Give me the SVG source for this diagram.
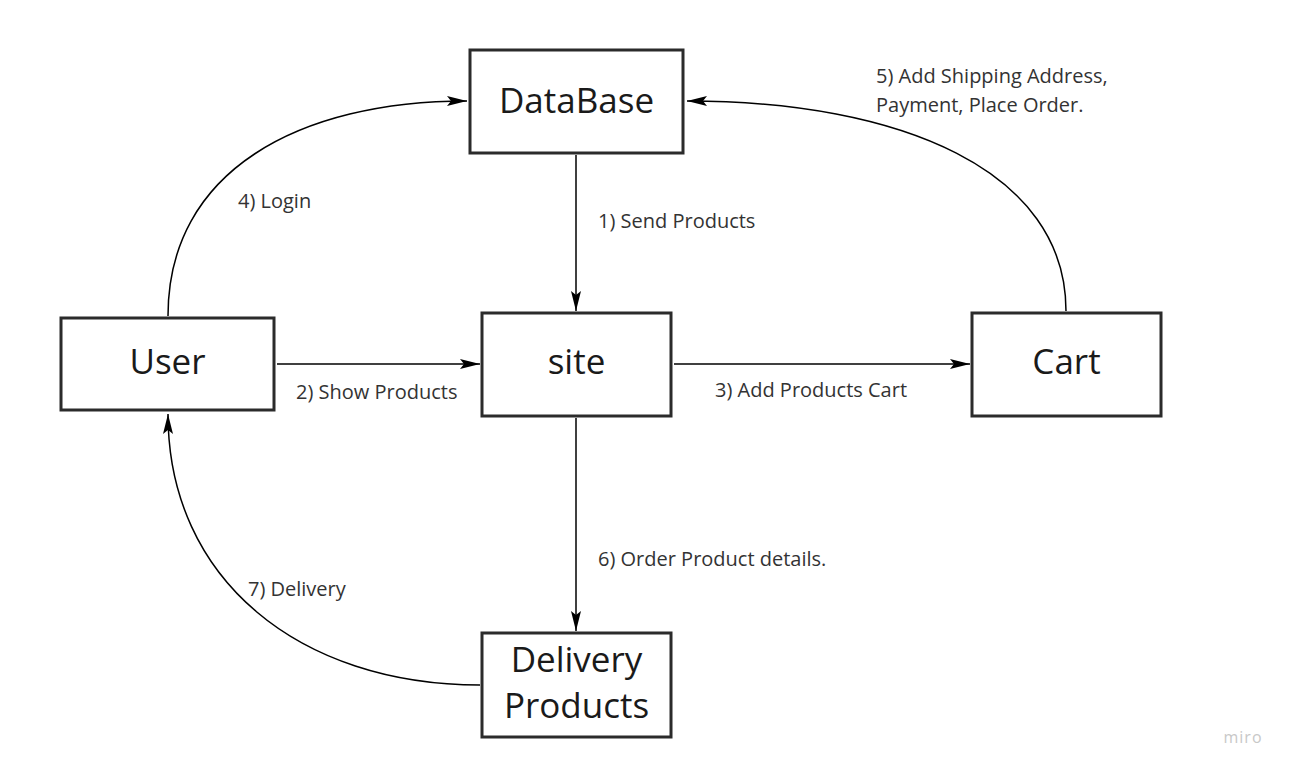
<svg xmlns="http://www.w3.org/2000/svg" width="1294" height="772" viewBox="0 0 1294 772">
<style>
.box{fill:#fff;stroke:#2b2b2b;stroke-width:3}
.nt{font-family:"Open Sans","Liberation Sans",sans-serif;font-size:35px;fill:#1a1a1a;text-anchor:middle}
.lt{font-family:"Open Sans","Liberation Sans",sans-serif;font-size:20px;fill:#333}
.c{fill:none;stroke:#000;stroke-width:1.5;marker-end:url(#ah)}
</style>
<defs>
<marker id="ah" viewBox="0 0 20 10" refX="20" refY="5" markerWidth="20" markerHeight="10" markerUnits="userSpaceOnUse" orient="auto">
<path d="M0,0 L20,5 L0,10 L4,5 Z" fill="#000"/>
</marker>
</defs>
<rect width="1294" height="772" fill="#fff"/>
<g id="connectors">
<path class="c" d="M576,155 L576,311"/>
<path class="c" d="M277,364 L480,364"/>
<path class="c" d="M674,364 L970,364"/>
<path class="c" d="M576,418 L576,631"/>
<path class="c" d="M168,316 C168,170 300,101 467,101"/>
<path class="c" d="M1066,311 C1066,170 900,101 687,101"/>
<path class="c" d="M480,685 C300,685 168,580 168,414"/>
<text class="lt" x="598" y="228">1) Send Products</text>
<text class="lt" x="296" y="399">2) Show Products</text>
<text class="lt" x="715" y="397">3) Add Products Cart</text>
<text class="lt" x="238" y="208">4) Login</text>
<text class="lt" x="876" y="83">5) Add Shipping Address,</text>
<text class="lt" x="876" y="112">Payment, Place Order.</text>
<text class="lt" x="598" y="566">6) Order Product details.</text>
<text class="lt" x="248" y="596">7) Delivery</text>
</g>
<g id="database"><rect class="box" x="470" y="50" width="213" height="103"/><text class="nt" x="576.5" y="113">DataBase</text></g>
<g id="user"><rect class="box" x="61" y="318" width="213" height="92"/><text class="nt" x="167.5" y="374">User</text></g>
<g id="site"><rect class="box" x="482" y="313" width="189" height="103"/><text class="nt" x="576.5" y="374">site</text></g>
<g id="cart"><rect class="box" x="972" y="313" width="189" height="103"/><text class="nt" x="1066.5" y="374">Cart</text></g>
<g id="delivery"><rect class="box" x="482" y="633" width="189" height="104"/><text class="nt" x="576.5" y="672">Delivery</text><text class="nt" x="576.5" y="718">Products</text></g>
<text x="1243" y="743" font-family="'Open Sans','Liberation Sans',sans-serif" font-size="16" fill="#c8c8c8" text-anchor="middle" letter-spacing="1">miro</text>
</svg>
